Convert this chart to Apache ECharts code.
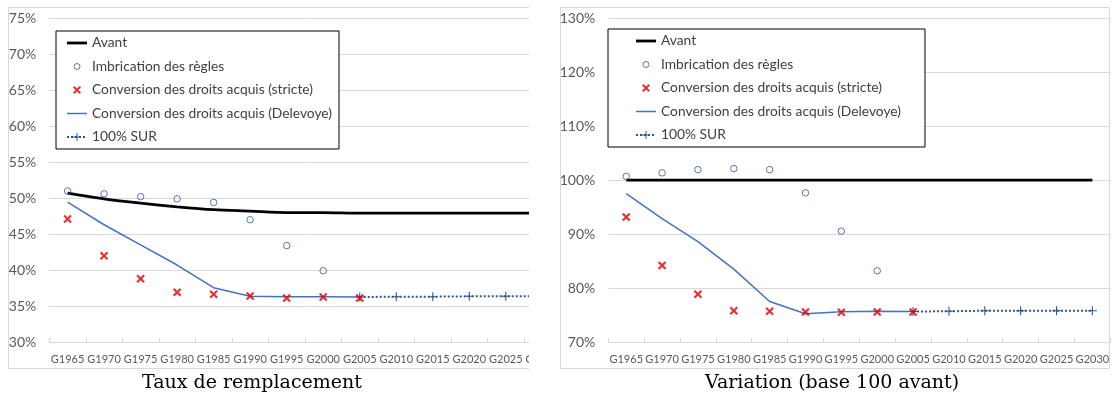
<!DOCTYPE html>
<html>
<head>
<meta charset="utf-8">
<script src="https://cdn.jsdelivr.net/npm/echarts@6/dist/echarts.min.js"></script>
<style>
  html, body { margin: 0; padding: 0; background: #fff; }
  #wrap { position: relative; width: 1114px; height: 398px; overflow: hidden; }
  #clipL { position: absolute; left: 0; top: 0; width: 529px; height: 398px; overflow: hidden; }
  #chartL { position: absolute; left: 0; top: 0; width: 600px; height: 398px; }
  #chartR { position: absolute; left: 530px; top: 0; width: 584px; height: 398px; }
</style>
</head>
<body>
<div id="wrap">
  <div id="clipL"><div id="chartL"></div></div>
  <div id="chartR"></div>
</div>
<script>
// Generations (x axis)
const categories = ['G1965', 'G1970', 'G1975', 'G1980', 'G1985', 'G1990', 'G1995',
                    'G2000', 'G2005', 'G2010', 'G2015', 'G2020', 'G2025', 'G2030'];

const seriesNames = [
  'Avant',
  'Imbrication des règles',
  'Conversion des droits acquis (stricte)',
  'Conversion des droits acquis (Delevoye)',
  '100% SUR'
];

// Taux de remplacement (%)
const tauxAvant    = [50.7, 49.9, 49.3, 48.8, 48.4, 48.2, 48.0, 48.0, 47.9, 47.9, 47.9, 47.9, 47.9, 47.9];
const tauxImbric   = [51.0, 50.6, 50.2, 49.9, 49.4, 47.0, 43.4, 39.9, null, null, null, null, null, null];
const tauxStricte  = [47.1, 42.0, 38.8, 36.9, 36.65, 36.4, 36.1, 36.25, 36.1, null, null, null, null, null];
const tauxDelevoye = [49.45, 46.3, 43.5, 40.7, 37.55, 36.35, 36.3, 36.3, 36.25, null, null, null, null, null];
const tauxSur      = [null, null, null, null, null, null, null, null, 36.25, 36.3, 36.3, 36.35, 36.35, 36.35];

// Variation, base 100 = avant (%)
const varAvant    = [100, 100, 100, 100, 100, 100, 100, 100, 100, 100, 100, 100, 100, 100];
const varImbric   = [100.7, 101.35, 101.95, 102.15, 101.95, 97.65, 90.55, 83.2, null, null, null, null, null, null];
const varStricte  = [93.15, 84.2, 78.85, 75.8, 75.7, 75.55, 75.5, 75.55, 75.55, null, null, null, null, null];
const varDelevoye = [97.5, 92.85, 88.6, 83.5, 77.5, 75.25, 75.6, 75.7, 75.65, null, null, null, null, null];
const varSur      = [null, null, null, null, null, null, null, null, 75.65, 75.7, 75.8, 75.8, 75.8, 75.8];

// Y axis ticks
const tauxTicks = { min: 30, max: 75, step: 5 };
const varTicks  = { min: 70, max: 130, step: 10 };

const SANS = 'Lato, "Liberation Sans", Arial, sans-serif';
const SERIF = '"DejaVu Serif", "Liberation Serif", serif';

const C_AVANT = '#000000';
const C_IMBRIC = '#2F5597';
const C_STRICTE = '#DD0000';
const C_DELEVOYE = '#4472C4';
const C_SUR = '#2F5597';

// Marker shapes
const CROSS = 'path://M0,1.8L1.8,0L5,3.2L8.2,0L10,1.8L6.8,5L10,8.2L8.2,10L5,6.8L1.8,10L0,8.2L3.2,5Z';
const PLUS = 'path://M4.4,0H5.6V4.4H10V5.6H5.6V10H4.4V5.6H0V4.4H4.4Z';
// Legend icons (fixed 20x10 / 10x10 boxes so that shapes keep their pixel size)
const ICON_RING = 'path://M0,0M10,10M8,5A3,3,0,1,1,2,5A3,3,0,1,1,8,5Z';
const ICON_CROSS = 'path://M0,0M10,10M1,2.4L2.4,1L5,3.6L7.6,1L9,2.4L6.4,5L9,7.6L7.6,9L5,6.4L2.4,9L1,7.6L3.6,5Z';
const ICON_THICK = 'path://M0,0M20,10M0,3.6H20V6.4H0Z';
const ICON_THIN = 'path://M0,0M20,10M0,4.25H20V5.75H0Z';

function buildOption(cfg) {
  return {
    animation: false,
    textStyle: { fontFamily: SANS },
    grid: { left: cfg.gridLeft, top: cfg.gridTop, width: cfg.gridWidth, height: cfg.gridHeight },
    xAxis: {
      type: 'category',
      data: categories,
      boundaryGap: true,
      axisLine: { lineStyle: { color: '#d9d9d9', width: 1 } },
      axisTick: { show: true, inside: true, length: 4, lineStyle: { color: '#d9d9d9' } },
      axisLabel: { interval: 0, fontSize: 11, color: '#595959', margin: 12, fontFamily: SANS },
      splitLine: { show: false }
    },
    yAxis: {
      type: 'value',
      min: cfg.ticks.min,
      max: cfg.ticks.max,
      interval: cfg.ticks.step,
      axisLine: { show: false },
      axisTick: { show: false },
      axisLabel: { formatter: '{value}%', fontSize: 14, color: '#595959', margin: 13, fontFamily: SANS },
      splitLine: { lineStyle: { color: '#d9d9d9', width: 1 } }
    },
    legend: {
      orient: 'vertical',
      left: cfg.legendLeft,
      top: cfg.legendTop,
      padding: cfg.legendPadding,
      itemGap: 9.5,
      itemWidth: 20,
      itemHeight: 10,
      borderColor: '#000',
      borderWidth: 1,
      borderRadius: 0,
      backgroundColor: '#fff',
      selectedMode: false,
      textStyle: { fontSize: 13.8, color: '#404040', fontFamily: SANS },
      data: [
        { name: seriesNames[0], icon: ICON_THICK, itemStyle: { color: C_AVANT, borderWidth: 0 } },
        { name: seriesNames[1], icon: ICON_RING, itemStyle: { color: '#fff', borderColor: C_IMBRIC, borderWidth: 1 } },
        { name: seriesNames[2], icon: ICON_CROSS, itemStyle: { color: C_STRICTE, borderWidth: 0 } },
        { name: seriesNames[3], icon: ICON_THIN, itemStyle: { color: C_DELEVOYE, borderWidth: 0 } },
        { name: seriesNames[4] }
      ]
    },
    graphic: [
      {
        type: 'rect', silent: true, z: -10,
        shape: cfg.frame,
        style: { fill: 'none', stroke: '#d9d9d9', lineWidth: 1 }
      },
      {
        type: 'text', silent: true,
        x: cfg.titleX, y: cfg.titleY,
        style: {
          text: cfg.title, font: '19px ' + SERIF, fill: '#000',
          align: 'center', verticalAlign: 'middle',
          textAlign: 'center', textVerticalAlign: 'middle'
        }
      }
    ],
    series: [
      {
        name: seriesNames[0], type: 'line', data: cfg.avant, symbol: 'none', smooth: 0.3,
        lineStyle: { color: C_AVANT, width: 2.75 }, itemStyle: { color: C_AVANT }, z: 2, silent: true
      },
      {
        name: seriesNames[3], type: 'line', data: cfg.delevoye, symbol: 'none',
        lineStyle: { color: C_DELEVOYE, width: 1.5 }, itemStyle: { color: C_DELEVOYE }, z: 3, silent: true
      },
      {
        name: seriesNames[4], type: 'line', data: cfg.sur, symbol: PLUS, symbolSize: 9, showSymbol: true,
        lineStyle: { color: C_SUR, width: 2, type: 'dotted' }, itemStyle: { color: C_SUR }, z: 3, silent: true
      },
      {
        name: seriesNames[1], type: 'scatter', data: cfg.imbric, symbol: 'circle', symbolSize: 6.5,
        itemStyle: { color: 'rgba(255,255,255,0)', borderColor: C_IMBRIC, borderWidth: 1 }, z: 4, silent: true
      },
      {
        name: seriesNames[2], type: 'scatter', data: cfg.stricte, symbol: CROSS, symbolSize: 8.5,
        itemStyle: { color: C_STRICTE }, z: 5, silent: true
      }
    ]
  };
}

const chartL = echarts.init(document.getElementById('chartL'), null, { renderer: 'canvas' });
chartL.setOption(buildOption({
  gridLeft: 49.3, gridTop: 18.3, gridWidth: 511.3, gridHeight: 323.7,
  ticks: tauxTicks,
  legendLeft: 56, legendTop: 31, legendPadding: [5, 7, 5, 10],
  frame: { x: 8.5, y: 7.5, width: 700, height: 361 },
  title: 'Taux de remplacement', titleX: 252, titleY: 383,
  avant: tauxAvant, imbric: tauxImbric, stricte: tauxStricte, delevoye: tauxDelevoye, sur: tauxSur
}));

const chartR = echarts.init(document.getElementById('chartR'), null, { renderer: 'canvas' });
chartR.setOption(buildOption({
  gridLeft: 78.3, gridTop: 18.3, gridWidth: 502, gridHeight: 323.7,
  ticks: varTicks,
  legendLeft: 78, legendTop: 29, legendPadding: [5, 24, 5, 27],
  frame: { x: 30.5, y: 7.5, width: 549, height: 361 },
  title: 'Variation (base 100 avant)', titleX: 302, titleY: 383,
  avant: varAvant, imbric: varImbric, stricte: varStricte, delevoye: varDelevoye, sur: varSur
}));
</script>
</body>
</html>
